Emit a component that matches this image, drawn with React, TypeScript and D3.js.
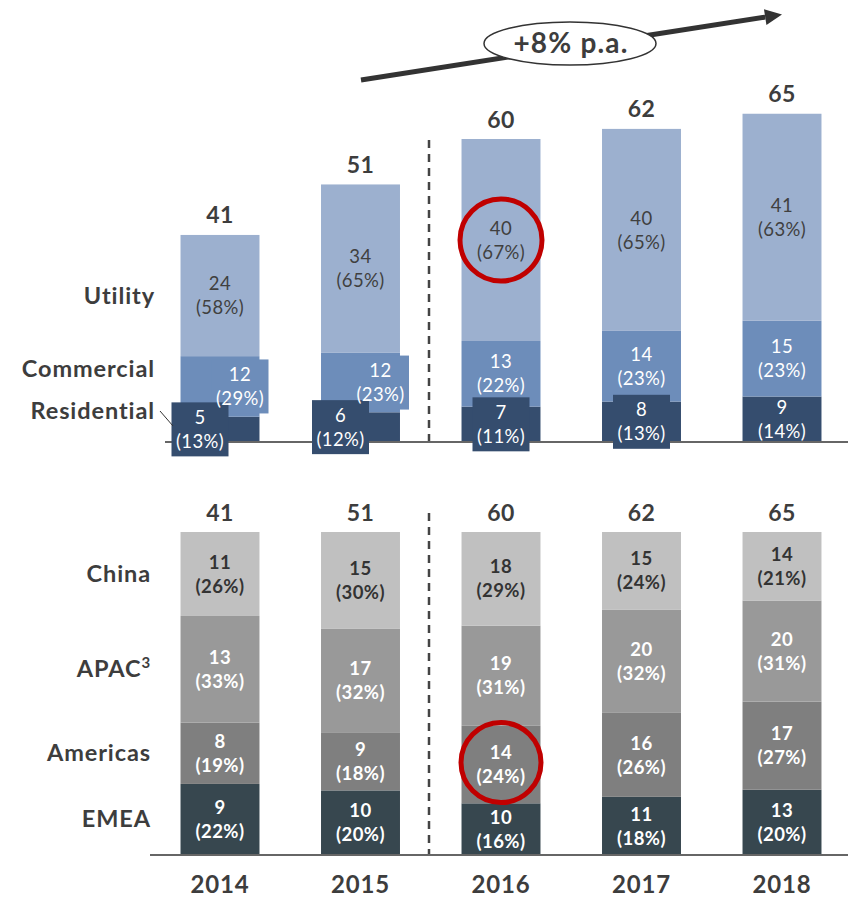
import React from 'react';
import * as d3 from 'd3';

const years = ['2014', '2015', '2016', '2017', '2018'];
const totals = [41, 51, 60, 62, 65];

const residential = [5, 6, 7, 8, 9];
const residentialPct = [13, 12, 11, 13, 14];
const commercial = [12, 12, 13, 14, 15];
const commercialPct = [29, 23, 22, 23, 23];
const utility = [24, 34, 40, 40, 41];
const utilityPct = [58, 65, 67, 65, 63];

const emea = [9, 10, 10, 11, 13];
const emeaPct = [22, 20, 16, 18, 20];
const americas = [8, 9, 14, 16, 17];
const americasPct = [19, 18, 24, 26, 27];
const apac = [13, 17, 19, 20, 20];
const apacPct = [33, 32, 31, 32, 31];
const china = [11, 15, 18, 15, 14];
const chinaPct = [26, 30, 29, 24, 21];

const growthLabel = '+8% p.a.';

const FONT = 'Lato, "Open Sans", sans-serif';
const DARK = '#3d3d3d';
const RED = '#c00000';

const W = 848;
const H = 898;

// layout tweaks for labels that overflow their segment (index per year)
const resBox = [true, true, true, true, false];
const resDx = [-20, -20, 0, 0, 0];
const comBox = [true, true, false, false, false];
const comDx = [20, 20, 0, 0, 0];

type Seg = { key: string; y0: number; y1: number; value: number; pct: number; fill: string; text: string; weight: number; box?: boolean; dx?: number };

export default function App() {
  const x = d3.scaleBand<string>().domain(years).range([149.75, 852.25]).paddingInner(0.438).paddingOuter(0.219);
  const bw = x.bandwidth();
  const cx = (i: number) => (x(years[i]) as number) + bw / 2;

  const yTop = d3.scaleLinear().domain([0, 65]).range([442, 442 - 65 * 5.05]);
  const yBot = d3.scaleLinear().domain([0, 100]).range([855, 532]);

  const topSeries = [
    { key: 'Residential', v: residential, p: residentialPct, fill: '#354d6e', text: '#ffffff' },
    { key: 'Commercial', v: commercial, p: commercialPct, fill: '#6d8dba', text: '#ffffff' },
    { key: 'Utility', v: utility, p: utilityPct, fill: '#9cb0cf', text: '#404040' },
  ];
  const botSeries = [
    { key: 'EMEA', v: emea, p: emeaPct, fill: '#37474f', text: '#ffffff' },
    { key: 'Americas', v: americas, p: americasPct, fill: '#7f7f7f', text: '#ffffff' },
    { key: 'APAC', v: apac, p: apacPct, fill: '#999999', text: '#ffffff' },
    { key: 'China', v: china, p: chinaPct, fill: '#c0c0c0', text: '#333333' },
  ];

  const topSegs: Seg[][] = years.map((_, i) => {
    const sum = d3.sum(topSeries, (s) => s.v[i]);
    let acc = 0;
    return topSeries.map((s, k) => {
      const y0 = acc;
      acc += (s.v[i] / sum) * totals[i];
      return {
        key: s.key, y0, y1: acc, value: s.v[i], pct: s.p[i], fill: s.fill, text: s.text, weight: 400,
        box: k === 0 ? resBox[i] : k === 1 ? comBox[i] : false,
        dx: k === 0 ? resDx[i] : k === 1 ? comDx[i] : 0,
      };
    });
  });
  const botSegs: Seg[][] = years.map((_, i) => {
    const sum = d3.sum(botSeries, (s) => s.p[i]);
    let acc = 0;
    return botSeries.map((s) => {
      const y0 = acc;
      acc += (s.p[i] / sum) * 100;
      return { key: s.key, y0, y1: acc, value: s.v[i], pct: s.p[i], fill: s.fill, text: s.text, weight: 700 };
    });
  });

  const fsSeg = 18.5;
  const labelLines = (c: number, xx: number, seg: Seg, key: string) => (
    <g key={key} fill={seg.text} fontWeight={seg.weight} fontSize={fsSeg} textAnchor="middle" letterSpacing={0.4}>
      <text x={xx} y={c - 12 + fsSeg * 0.36}>{seg.value}</text>
      <text x={xx} y={c + 12 + fsSeg * 0.36}>({seg.pct}%)</text>
    </g>
  );

  // arrow
  const a0 = [361, 80];
  const a1 = [782, 14.5];
  const dxA = a1[0] - a0[0];
  const dyA = a1[1] - a0[1];
  const len = Math.hypot(dxA, dyA);
  const ux = dxA / len;
  const uy = dyA / len;
  const hl = 17;
  const hw = 8;
  const base = [a1[0] - ux * hl, a1[1] - uy * hl];
  const head = [
    [a1[0], a1[1]],
    [base[0] - uy * hw, base[1] + ux * hw],
    [base[0] + uy * hw, base[1] - ux * hw],
  ];

  const dashX = 429;
  const i2016 = years.indexOf('2016');
  const utilSeg = topSegs[i2016][2];
  const amSeg = botSegs[i2016][1];
  const circleTop = { x: cx(i2016), y: (yTop(utilSeg.y0) + yTop(utilSeg.y1)) / 2 };
  const circleBot = { x: cx(i2016), y: (yBot(amSeg.y0) + yBot(amSeg.y1)) / 2 - 2 };

  const boxW = 57;
  const boxH = 54;

  return (
    <svg width={W} height={H} style={{ position: 'absolute', left: 0, top: 0, background: '#fff' }} fontFamily={FONT}>
      <rect width={W} height={H} fill="#fff" />

      {/* growth arrow */}
      <line x1={a0[0]} y1={a0[1]} x2={base[0]} y2={base[1]} stroke="#333" strokeWidth={5} />
      <polygon points={head.map((p) => p.join(',')).join(' ')} fill="#333" />
      <ellipse cx={570} cy={43.5} rx={86} ry={21.5} fill="#fff" stroke="#333" strokeWidth={1.5} />
      <text x={571} y={53} textAnchor="middle" fontSize={28} fontWeight={700} fill={DARK} letterSpacing={1.2}>{growthLabel}</text>

      {/* TOP CHART */}
      <line x1={dashX} x2={dashX} y1={140} y2={442} stroke="#444" strokeWidth={2.5} strokeDasharray="8,6" />
      {topSegs.map((segs, i) => (
        <g key={'tb' + i}>
          {segs.map((s) => (
            <rect key={s.key} x={x(years[i])} width={bw} y={yTop(s.y1)} height={yTop(s.y0) - yTop(s.y1)} fill={s.fill} />
          ))}
        </g>
      ))}
      <line x1={165} x2={W} y1={442} y2={442} stroke="#666" strokeWidth={2} />
      {/* overflow label boxes: commercial first, residential on top */}
      {[1, 0].map((k) =>
        topSegs.map((segs, i) => {
          const s = segs[k];
          if (!s.box) return null;
          const c = (yTop(s.y0) + yTop(s.y1)) / 2;
          return <rect key={'bx' + k + i} x={cx(i) + (s.dx || 0) - boxW / 2} y={c - boxH / 2} width={boxW} height={boxH} fill={s.fill} />;
        })
      )}
      {topSegs.map((segs, i) =>
        segs.map((s) => {
          const c = (yTop(s.y0) + yTop(s.y1)) / 2;
          return labelLines(c, cx(i) + (s.dx || 0), s, 'tl' + i + s.key);
        })
      )}
      {totals.map((t, i) => (
        <text key={'tt' + i} x={cx(i)} y={yTop(t) - 11.5} textAnchor="middle" fontSize={23} fontWeight={700} fill={DARK} letterSpacing={0.5}>{t}</text>
      ))}
      <g fontSize={23.5} fontWeight={700} fill={DARK} textAnchor="end" letterSpacing={0.9}>
        <text x={155} y={304}>Utility</text>
        <text x={155} y={377}>Commercial</text>
        <text x={155} y={419}>Residential</text>
      </g>
      <line x1={160} y1={411} x2={173} y2={426} stroke="#333" strokeWidth={1} />

      {/* BOTTOM CHART */}
      <line x1={dashX} x2={dashX} y1={513} y2={855} stroke="#444" strokeWidth={2.5} strokeDasharray="8,6" />
      {botSegs.map((segs, i) => (
        <g key={'bb' + i}>
          {segs.map((s) => (
            <rect key={s.key} x={x(years[i])} width={bw} y={yBot(s.y1)} height={yBot(s.y0) - yBot(s.y1)} fill={s.fill} />
          ))}
        </g>
      ))}
      <line x1={150} x2={W} y1={855} y2={855} stroke="#666" strokeWidth={2} />
      {botSegs.map((segs, i) =>
        segs.map((s) => {
          const c = (yBot(s.y0) + yBot(s.y1)) / 2;
          return labelLines(c, cx(i), s, 'bl' + i + s.key);
        })
      )}
      {totals.map((t, i) => (
        <text key={'bt' + i} x={cx(i)} y={521} textAnchor="middle" fontSize={23} fontWeight={700} fill={DARK} letterSpacing={0.5}>{t}</text>
      ))}
      <g fontSize={23.5} fontWeight={700} fill={DARK} textAnchor="end" letterSpacing={0.9}>
        {botSeries.map((s) => {
          const seg = botSegs[0].find((g) => g.key === s.key) as Seg;
          const c = (yBot(seg.y0) + yBot(seg.y1)) / 2;
          return s.key === 'APAC' ? (
            <text key={'ll' + s.key} x={151} y={c + 8}>
              APAC<tspan fontSize={15} dy={-9}>3</tspan>
            </text>
          ) : (
            <text key={'ll' + s.key} x={151} y={c + 8}>{s.key}</text>
          );
        })}
      </g>

      {/* years */}
      {years.map((yv, i) => (
        <text key={'yr' + yv} x={cx(i)} y={893} textAnchor="middle" fontSize={24} fontWeight={700} fill={DARK} letterSpacing={0.8}>{yv}</text>
      ))}

      {/* highlight circles */}
      <circle cx={circleTop.x} cy={circleTop.y} r={41} fill="none" stroke={RED} strokeWidth={5} />
      <circle cx={circleBot.x} cy={circleBot.y} r={40} fill="none" stroke={RED} strokeWidth={5} />
    </svg>
  );
}
